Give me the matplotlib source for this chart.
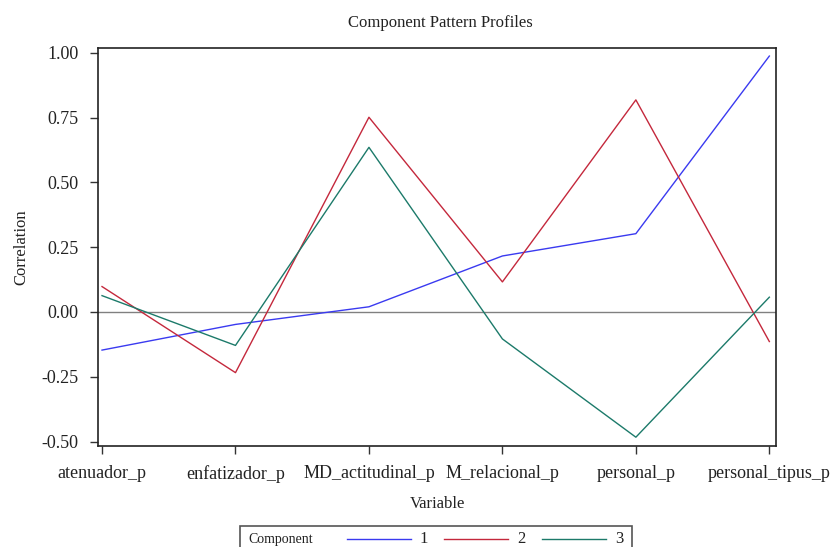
import matplotlib.pyplot as plt
from matplotlib.lines import Line2D
from matplotlib.patches import Rectangle

plt.rcParams['font.family'] = ['Liberation Serif', 'DejaVu Serif']

variables = ['atenuador_p', 'enfatizador_p', 'MD_actitudinal_p', 'M_relacional_p',
             'personal_p', 'personal_tipus_p']
comp1 = [-0.147, -0.048, 0.020, 0.216, 0.302, 0.987]
comp2 = [0.098, -0.234, 0.751, 0.116, 0.818, -0.114]
comp3 = [0.063, -0.129, 0.635, -0.104, -0.483, 0.057]
components = ['1', '2', '3']
colors = ['#3a3af0', '#c4283c', '#1c7a6a']
yticks = [-0.50, -0.25, 0.00, 0.25, 0.50, 0.75, 1.00]

fig = plt.figure(figsize=(8.32, 5.47), dpi=100)
ax = fig.add_axes([0.1178, 0.1846, 0.8149, 0.7276])

x = list(range(len(variables)))
lines = []
for vals, c in zip([comp1, comp2, comp3], colors):
    ln, = ax.plot(x, vals, color=c, lw=1.0)
    lines.append(ln)

ax.axhline(0, color='#808080', lw=1.0, zorder=0)

ax.set_xlim(-0.03, 5.05)
ax.set_ylim(-0.517, 1.018)
ax.set_xticks(x)
ax.set_xticklabels(variables)
ax.set_yticks(yticks)
ax.set_yticklabels([f'{v:.2f}' for v in yticks])
ax.tick_params(labelsize=13, length=6, width=1, color='#333333', labelcolor='#222222', pad=8)
for s in ax.spines.values():
    s.set_linewidth(1.2)
    s.set_color('#222222')

ax.set_xlabel('Variable', fontsize=12, color='#222222', labelpad=9)
ax.set_ylabel('Correlation', fontsize=12, color='#222222', labelpad=9)
fig.text(0.529, 0.958, 'Component Pattern Profiles', ha='center', va='center',
         fontsize=12, color='#222222')

# legend strip at the bottom
fig.add_artist(Rectangle((240 / 832, -0.02), 392 / 832, (547 - 526) / 547 + 0.02,
                         transform=fig.transFigure, fill=False, lw=1.2, ec='#555555'))
ly = 1 - 539 / 547
fig.text(248 / 832, ly, 'Component', fontsize=10, va='center', color='#222222')
starts = [347, 444, 542]
for st, ln, lab in zip(starts, lines, components):
    fig.add_artist(Line2D([st / 832, (st + 64) / 832], [ly, ly], transform=fig.transFigure,
                          color=ln.get_color(), lw=1.0))
    fig.text((st + 77) / 832, ly, lab, fontsize=12, va='center', ha='center', color='#222222')

fig.savefig('out.png', dpi=100)
